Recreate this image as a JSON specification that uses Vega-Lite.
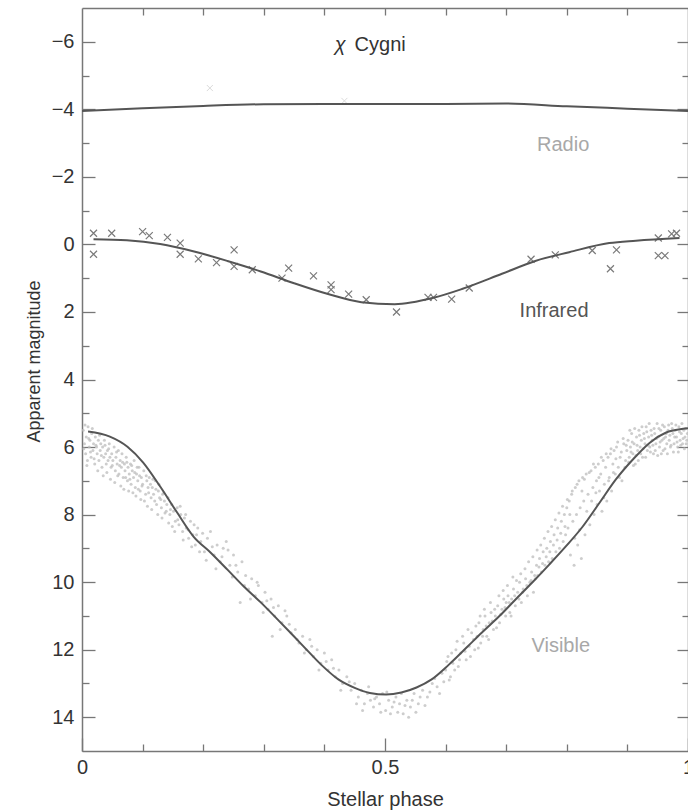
{
  "$schema": "https://vega.github.io/schema/vega-lite/v6.json",
  "width": 606,
  "height": 743,
  "autosize": {"type": "none"},
  "padding": {"left": 82, "top": 8, "right": 0, "bottom": 59},
  "config": {"view": {"stroke": null}, "font": "Liberation Sans"},
  "datasets": {
    "visible_pts": [
      {"x":0.002,"y":5.5},{"x":0.004,"y":5.9},{"x":0.006,"y":6.2},{"x":0.007,"y":5.7},{"x":0.009,"y":6.4},{"x":0.010,"y":5.4},{"x":0.012,"y":6.0},{"x":0.013,"y":5.8},{"x":0.015,"y":6.3},{"x":0.016,"y":5.6},{"x":0.018,"y":6.1},{"x":0.019,"y":5.9},{"x":0.021,"y":6.5},{"x":0.022,"y":5.7},{"x":0.024,"y":6.0},{"x":0.025,"y":6.2},{"x":0.027,"y":5.8},{"x":0.028,"y":6.4},{"x":0.030,"y":6.1},{"x":0.031,"y":5.9},{"x":0.033,"y":6.6},{"x":0.034,"y":6.0},{"x":0.036,"y":6.3},{"x":0.037,"y":5.8},{"x":0.039,"y":6.2},{"x":0.040,"y":6.5},{"x":0.042,"y":6.1},{"x":0.043,"y":6.4},{"x":0.045,"y":5.9},{"x":0.046,"y":6.3},{"x":0.048,"y":6.6},{"x":0.049,"y":6.2},
      {"x":0.051,"y":6.4},{"x":0.053,"y":6.0},{"x":0.055,"y":6.7},{"x":0.056,"y":6.3},{"x":0.058,"y":6.5},{"x":0.060,"y":6.1},{"x":0.061,"y":6.8},{"x":0.063,"y":6.4},{"x":0.065,"y":6.6},{"x":0.066,"y":6.2},{"x":0.068,"y":6.9},{"x":0.070,"y":6.5},{"x":0.071,"y":6.7},{"x":0.073,"y":6.3},{"x":0.075,"y":7.0},{"x":0.076,"y":6.6},{"x":0.078,"y":6.8},{"x":0.080,"y":6.5},{"x":0.081,"y":7.1},{"x":0.083,"y":6.7},{"x":0.085,"y":6.9},{"x":0.086,"y":6.4},{"x":0.088,"y":7.2},{"x":0.090,"y":6.8},{"x":0.092,"y":7.0},{"x":0.094,"y":6.6},{"x":0.096,"y":7.3},{"x":0.098,"y":6.9},
      {"x":0.100,"y":7.1},{"x":0.102,"y":6.7},{"x":0.105,"y":7.4},{"x":0.107,"y":7.0},{"x":0.109,"y":7.2},{"x":0.111,"y":6.9},{"x":0.114,"y":7.5},{"x":0.116,"y":7.2},{"x":0.118,"y":7.4},{"x":0.121,"y":7.0},{"x":0.123,"y":7.7},{"x":0.126,"y":7.3},{"x":0.128,"y":7.5},{"x":0.131,"y":7.8},{"x":0.133,"y":7.4},{"x":0.136,"y":7.6},{"x":0.139,"y":7.9},{"x":0.142,"y":7.5},{"x":0.145,"y":8.0},{"x":0.148,"y":7.7},
      {"x":0.151,"y":7.9},{"x":0.154,"y":8.2},{"x":0.157,"y":7.8},{"x":0.160,"y":8.3},{"x":0.163,"y":8.0},{"x":0.166,"y":8.5},{"x":0.169,"y":8.1},{"x":0.172,"y":8.4},{"x":0.176,"y":8.7},{"x":0.179,"y":8.2},{"x":0.183,"y":8.6},{"x":0.187,"y":8.9},{"x":0.191,"y":8.4},{"x":0.196,"y":8.8},
      {"x":0.202,"y":9.1},{"x":0.207,"y":8.7},{"x":0.212,"y":8.5},{"x":0.218,"y":9.2},{"x":0.223,"y":8.9},{"x":0.228,"y":9.4},{"x":0.233,"y":9.0},{"x":0.238,"y":8.8},{"x":0.244,"y":9.5},{"x":0.250,"y":9.2},{"x":0.257,"y":9.7},{"x":0.264,"y":9.4},{"x":0.261,"y":10.6},
      {"x":0.270,"y":9.8},{"x":0.275,"y":10.2},{"x":0.280,"y":9.9},{"x":0.286,"y":10.4},{"x":0.291,"y":10.1},{"x":0.297,"y":10.6},{"x":0.302,"y":10.3},{"x":0.307,"y":10.8},{"x":0.312,"y":10.5},{"x":0.318,"y":11.0},{"x":0.324,"y":10.7},{"x":0.330,"y":11.2},{"x":0.338,"y":11.0},{"x":0.345,"y":11.5},{"x":0.314,"y":11.6},
      {"x":0.352,"y":11.4},{"x":0.358,"y":11.8},{"x":0.364,"y":11.6},{"x":0.370,"y":12.0},{"x":0.376,"y":11.7},{"x":0.382,"y":12.2},{"x":0.388,"y":12.0},{"x":0.394,"y":12.4},{"x":0.400,"y":12.1},{"x":0.406,"y":12.6},{"x":0.412,"y":12.3},{"x":0.418,"y":12.8},{"x":0.424,"y":12.6},{"x":0.430,"y":13.0},{"x":0.437,"y":12.8},{"x":0.444,"y":13.2},
      {"x":0.450,"y":13.0},{"x":0.456,"y":13.4},{"x":0.461,"y":13.2},{"x":0.466,"y":13.6},{"x":0.471,"y":13.3},{"x":0.476,"y":13.5},{"x":0.481,"y":13.7},{"x":0.486,"y":13.4},{"x":0.491,"y":13.6},{"x":0.496,"y":13.3},{"x":0.501,"y":13.8},{"x":0.506,"y":13.5},{"x":0.512,"y":13.7},{"x":0.518,"y":13.4},{"x":0.524,"y":13.6},{"x":0.530,"y":13.9},{"x":0.536,"y":13.5},{"x":0.542,"y":13.7},{"x":0.548,"y":13.3},{"x":0.555,"y":13.6},{"x":0.562,"y":13.2},{"x":0.570,"y":13.4},{"x":0.578,"y":13.0},{"x":0.586,"y":13.1},{"x":0.594,"y":12.7},
      {"x":0.600,"y":12.6},{"x":0.604,"y":12.2},{"x":0.608,"y":12.8},{"x":0.612,"y":12.4},{"x":0.617,"y":12.0},{"x":0.621,"y":12.5},{"x":0.625,"y":12.1},{"x":0.630,"y":11.8},{"x":0.634,"y":12.3},{"x":0.639,"y":11.9},{"x":0.643,"y":11.5},{"x":0.648,"y":12.0},
      {"x":0.652,"y":11.6},{"x":0.655,"y":11.2},{"x":0.658,"y":11.8},{"x":0.662,"y":11.4},{"x":0.665,"y":11.0},{"x":0.668,"y":11.6},{"x":0.672,"y":11.2},{"x":0.675,"y":10.9},{"x":0.679,"y":11.4},{"x":0.682,"y":11.0},{"x":0.686,"y":10.7},{"x":0.689,"y":11.2},{"x":0.693,"y":10.8},{"x":0.696,"y":10.5},{"x":0.699,"y":11.0},{"x":0.700,"y":10.6},
      {"x":0.703,"y":10.4},{"x":0.706,"y":10.9},{"x":0.709,"y":10.5},{"x":0.712,"y":10.2},{"x":0.715,"y":10.7},{"x":0.719,"y":10.3},{"x":0.722,"y":10.0},{"x":0.725,"y":10.6},{"x":0.728,"y":10.2},{"x":0.732,"y":9.9},{"x":0.735,"y":10.4},{"x":0.739,"y":10.0},{"x":0.742,"y":9.7},{"x":0.745,"y":10.3},{"x":0.748,"y":9.9},{"x":0.750,"y":9.5},
      {"x":0.752,"y":9.8},{"x":0.755,"y":9.3},{"x":0.758,"y":9.7},{"x":0.761,"y":9.1},{"x":0.764,"y":9.5},{"x":0.767,"y":9.0},{"x":0.770,"y":9.4},{"x":0.773,"y":8.8},{"x":0.776,"y":9.3},{"x":0.779,"y":8.6},{"x":0.782,"y":9.1},{"x":0.785,"y":8.4},{"x":0.788,"y":9.0},{"x":0.791,"y":8.2},{"x":0.794,"y":8.8},{"x":0.796,"y":8.0},{"x":0.798,"y":8.6},{"x":0.800,"y":7.8},
      {"x":0.802,"y":8.4},{"x":0.804,"y":7.6},{"x":0.806,"y":9.2},{"x":0.808,"y":7.4},{"x":0.810,"y":8.2},{"x":0.812,"y":9.5},{"x":0.814,"y":7.2},{"x":0.816,"y":8.0},{"x":0.818,"y":8.9},{"x":0.820,"y":7.0},{"x":0.822,"y":7.8},{"x":0.824,"y":9.3},{"x":0.826,"y":6.9},{"x":0.828,"y":7.6},{"x":0.830,"y":8.6},{"x":0.832,"y":6.8},{"x":0.835,"y":7.4},{"x":0.838,"y":8.3},{"x":0.840,"y":6.7},{"x":0.843,"y":7.2},{"x":0.845,"y":8.0},{"x":0.847,"y":6.6},{"x":0.849,"y":7.0},{"x":0.850,"y":7.7},
      {"x":0.852,"y":6.5},{"x":0.854,"y":7.3},{"x":0.856,"y":6.8},{"x":0.858,"y":7.9},{"x":0.860,"y":6.4},{"x":0.862,"y":7.1},{"x":0.864,"y":6.6},{"x":0.866,"y":7.6},{"x":0.868,"y":6.3},{"x":0.870,"y":6.9},{"x":0.872,"y":6.2},{"x":0.874,"y":7.3},{"x":0.876,"y":6.5},{"x":0.878,"y":6.1},{"x":0.880,"y":6.8},{"x":0.882,"y":6.0},{"x":0.885,"y":6.6},{"x":0.888,"y":6.3},{"x":0.891,"y":7.0},{"x":0.894,"y":5.9},{"x":0.897,"y":6.4},{"x":0.899,"y":6.1},
      {"x":0.901,"y":5.8},{"x":0.903,"y":6.3},{"x":0.905,"y":6.0},{"x":0.907,"y":5.6},{"x":0.909,"y":6.2},{"x":0.911,"y":5.9},{"x":0.913,"y":6.5},{"x":0.915,"y":5.7},{"x":0.917,"y":6.1},{"x":0.919,"y":5.5},{"x":0.921,"y":6.0},{"x":0.923,"y":5.8},{"x":0.925,"y":6.3},{"x":0.927,"y":5.6},{"x":0.929,"y":5.9},{"x":0.931,"y":5.4},{"x":0.933,"y":6.1},{"x":0.935,"y":5.7},{"x":0.937,"y":6.0},{"x":0.939,"y":5.5},{"x":0.941,"y":5.8},{"x":0.943,"y":6.2},{"x":0.945,"y":5.6},{"x":0.947,"y":5.9},{"x":0.949,"y":5.3},{"x":0.951,"y":5.7},{"x":0.953,"y":6.0},{"x":0.955,"y":5.5},{"x":0.957,"y":5.8},{"x":0.959,"y":6.1},{"x":0.961,"y":5.4},{"x":0.963,"y":5.7},{"x":0.965,"y":5.9},{"x":0.967,"y":5.5},{"x":0.969,"y":5.8},{"x":0.971,"y":6.0},{"x":0.973,"y":5.3},{"x":0.975,"y":5.6},{"x":0.977,"y":5.9},{"x":0.979,"y":5.5},{"x":0.981,"y":5.7},{"x":0.983,"y":6.0},{"x":0.985,"y":5.4},{"x":0.987,"y":5.8},{"x":0.989,"y":5.6},{"x":0.991,"y":5.9},{"x":0.993,"y":5.5},{"x":0.995,"y":5.7},{"x":0.997,"y":5.9},{"x":0.999,"y":5.6},
      {"x":0.003,"y":6.05},{"x":0.005,"y":5.35},{"x":0.008,"y":6.55},{"x":0.011,"y":5.75},{"x":0.014,"y":6.15},{"x":0.017,"y":5.45},{"x":0.020,"y":6.35},{"x":0.023,"y":5.95},{"x":0.026,"y":6.7},{"x":0.029,"y":5.65},{"x":0.032,"y":6.25},{"x":0.035,"y":6.85},{"x":0.038,"y":5.95},{"x":0.041,"y":6.75},{"x":0.044,"y":6.05},{"x":0.047,"y":6.95},{"x":0.050,"y":6.55},{"x":0.054,"y":7.05},{"x":0.057,"y":6.15},{"x":0.059,"y":6.85},{"x":0.062,"y":6.55},{"x":0.064,"y":7.15},{"x":0.067,"y":6.45},{"x":0.069,"y":7.25},{"x":0.072,"y":6.9},{"x":0.074,"y":6.45},{"x":0.077,"y":7.3},{"x":0.079,"y":6.95},{"x":0.082,"y":6.55},{"x":0.084,"y":7.35},{"x":0.087,"y":6.75},{"x":0.089,"y":7.45},{"x":0.091,"y":6.6},{"x":0.093,"y":7.25},{"x":0.095,"y":6.85},{"x":0.097,"y":7.55},{"x":0.099,"y":7.15},{"x":0.103,"y":7.6},{"x":0.106,"y":6.85},{"x":0.108,"y":7.75},{"x":0.110,"y":7.35},{"x":0.113,"y":7.1},{"x":0.115,"y":7.85},{"x":0.117,"y":6.95},{"x":0.120,"y":7.6},{"x":0.122,"y":7.25},{"x":0.125,"y":8.0},{"x":0.127,"y":7.1},{"x":0.130,"y":7.55},{"x":0.132,"y":8.1},{"x":0.135,"y":7.35},{"x":0.137,"y":7.95},{"x":0.140,"y":7.7},{"x":0.143,"y":8.25},{"x":0.146,"y":7.85},{"x":0.149,"y":8.35},
      {"x":0.153,"y":8.5},{"x":0.158,"y":8.15},{"x":0.162,"y":7.75},{"x":0.167,"y":8.75},{"x":0.171,"y":8.0},{"x":0.175,"y":8.45},{"x":0.181,"y":8.95},{"x":0.185,"y":8.3},{"x":0.189,"y":8.6},{"x":0.194,"y":9.1},{"x":0.199,"y":8.55},{"x":0.205,"y":9.35},{"x":0.215,"y":8.95},{"x":0.221,"y":9.6},{"x":0.231,"y":9.25},{"x":0.241,"y":9.05},{"x":0.248,"y":9.85},{"x":0.254,"y":9.5},{"x":0.268,"y":10.1},{"x":0.278,"y":10.5},{"x":0.289,"y":10.0},{"x":0.299,"y":10.9},{"x":0.305,"y":10.55},{"x":0.316,"y":10.75},{"x":0.327,"y":11.4},{"x":0.335,"y":10.85},{"x":0.342,"y":11.25},{"x":0.355,"y":11.7},{"x":0.367,"y":12.1},{"x":0.379,"y":11.9},{"x":0.391,"y":12.6},{"x":0.403,"y":12.35},{"x":0.415,"y":12.55},{"x":0.427,"y":13.2},{"x":0.441,"y":12.95},
      {"x":0.453,"y":13.6},{"x":0.463,"y":13.8},{"x":0.473,"y":13.1},{"x":0.483,"y":13.45},{"x":0.493,"y":13.85},{"x":0.503,"y":13.25},{"x":0.509,"y":13.9},{"x":0.515,"y":13.55},{"x":0.521,"y":13.85},{"x":0.527,"y":13.3},{"x":0.533,"y":13.65},{"x":0.539,"y":14.0},{"x":0.545,"y":13.5},{"x":0.551,"y":13.85},{"x":0.558,"y":13.4},{"x":0.566,"y":13.65},{"x":0.574,"y":13.25},{"x":0.582,"y":12.85},{"x":0.590,"y":13.3},{"x":0.597,"y":12.95},
      {"x":0.602,"y":12.35},{"x":0.606,"y":12.9},{"x":0.610,"y":12.1},{"x":0.615,"y":12.6},{"x":0.619,"y":11.75},{"x":0.623,"y":12.3},{"x":0.628,"y":11.6},{"x":0.632,"y":12.05},{"x":0.637,"y":11.4},{"x":0.641,"y":12.2},{"x":0.646,"y":11.7},{"x":0.650,"y":11.3},{"x":0.654,"y":11.95},{"x":0.657,"y":11.0},{"x":0.661,"y":11.6},{"x":0.664,"y":10.8},{"x":0.667,"y":11.3},{"x":0.671,"y":11.7},{"x":0.674,"y":10.6},{"x":0.677,"y":11.15},{"x":0.681,"y":10.8},{"x":0.684,"y":11.35},{"x":0.688,"y":10.4},{"x":0.691,"y":10.95},{"x":0.695,"y":10.25},{"x":0.698,"y":10.75},{"x":0.702,"y":10.1},{"x":0.705,"y":10.6},{"x":0.708,"y":11.0},{"x":0.711,"y":9.85},{"x":0.714,"y":10.4},{"x":0.717,"y":9.95},{"x":0.721,"y":10.5},{"x":0.724,"y":9.75},{"x":0.727,"y":10.3},{"x":0.731,"y":9.6},{"x":0.734,"y":10.1},{"x":0.737,"y":9.4},{"x":0.741,"y":9.95},{"x":0.744,"y":9.25},{"x":0.747,"y":9.8},{"x":0.751,"y":9.05},{"x":0.754,"y":9.55},{"x":0.757,"y":8.9},{"x":0.760,"y":9.45},{"x":0.763,"y":8.7},{"x":0.766,"y":9.25},{"x":0.769,"y":8.5},{"x":0.772,"y":9.1},{"x":0.775,"y":8.35},{"x":0.778,"y":8.9},{"x":0.781,"y":8.15},{"x":0.784,"y":8.75},{"x":0.787,"y":7.95},{"x":0.790,"y":8.55},{"x":0.793,"y":7.75},{"x":0.797,"y":8.35},{"x":0.801,"y":7.55},{"x":0.805,"y":8.0},{"x":0.809,"y":7.3},{"x":0.813,"y":8.7},{"x":0.817,"y":7.1},{"x":0.821,"y":8.45},{"x":0.825,"y":7.3},{"x":0.829,"y":6.95},{"x":0.833,"y":7.9},{"x":0.837,"y":6.75},{"x":0.841,"y":7.6},{"x":0.844,"y":6.5},{"x":0.848,"y":7.35},{"x":0.853,"y":6.9},{"x":0.857,"y":6.3},{"x":0.861,"y":7.5},{"x":0.865,"y":6.2},{"x":0.869,"y":7.0},{"x":0.873,"y":6.05},{"x":0.877,"y":6.75},{"x":0.881,"y":6.35},{"x":0.884,"y":5.85},{"x":0.887,"y":6.9},{"x":0.890,"y":6.15},{"x":0.893,"y":5.75},{"x":0.896,"y":6.6},{"x":0.898,"y":5.95},
      {"x":0.902,"y":6.45},{"x":0.904,"y":5.5},{"x":0.906,"y":6.15},{"x":0.908,"y":5.85},{"x":0.910,"y":6.55},{"x":0.912,"y":5.45},{"x":0.914,"y":6.25},{"x":0.916,"y":5.95},{"x":0.918,"y":6.4},{"x":0.920,"y":5.65},{"x":0.922,"y":6.2},{"x":0.924,"y":5.4},{"x":0.926,"y":6.05},{"x":0.928,"y":5.75},{"x":0.930,"y":6.3},{"x":0.932,"y":5.55},{"x":0.934,"y":5.95},{"x":0.936,"y":5.3},{"x":0.938,"y":6.15},{"x":0.940,"y":5.65},{"x":0.942,"y":5.95},{"x":0.944,"y":5.45},{"x":0.946,"y":6.1},{"x":0.948,"y":5.75},{"x":0.950,"y":6.25},{"x":0.952,"y":5.45},{"x":0.954,"y":5.85},{"x":0.956,"y":6.2},{"x":0.958,"y":5.35},{"x":0.960,"y":5.75},{"x":0.962,"y":6.05},{"x":0.964,"y":5.6},{"x":0.966,"y":6.2},{"x":0.968,"y":5.35},{"x":0.970,"y":5.65},{"x":0.972,"y":5.95},{"x":0.974,"y":5.45},{"x":0.976,"y":6.15},{"x":0.978,"y":5.7},{"x":0.980,"y":5.35},{"x":0.982,"y":5.85},{"x":0.984,"y":6.15},{"x":0.986,"y":5.55},{"x":0.988,"y":5.95},{"x":0.990,"y":5.3},{"x":0.992,"y":5.75},{"x":0.994,"y":6.05},{"x":0.996,"y":5.45},{"x":0.998,"y":5.8}
    ],
    "visible_curve": [
      {"x":0.010,"y":5.54},{"x":0.046,"y":5.69},{"x":0.075,"y":5.99},{"x":0.101,"y":6.46},{"x":0.129,"y":7.17},{"x":0.157,"y":7.94},{"x":0.184,"y":8.65},{"x":0.212,"y":9.12},{"x":0.240,"y":9.63},{"x":0.267,"y":10.13},{"x":0.295,"y":10.60},{"x":0.323,"y":11.11},{"x":0.350,"y":11.61},{"x":0.367,"y":11.93},{"x":0.395,"y":12.45},{"x":0.423,"y":12.88},{"x":0.450,"y":13.13},{"x":0.475,"y":13.28},{"x":0.502,"y":13.33},{"x":0.527,"y":13.27},{"x":0.552,"y":13.12},{"x":0.577,"y":12.88},{"x":0.605,"y":12.45},{"x":0.635,"y":11.93},{"x":0.660,"y":11.49},{"x":0.688,"y":11.02},{"x":0.715,"y":10.52},{"x":0.743,"y":10.01},{"x":0.771,"y":9.48},{"x":0.798,"y":8.95},{"x":0.826,"y":8.36},{"x":0.854,"y":7.65},{"x":0.881,"y":6.96},{"x":0.909,"y":6.37},{"x":0.937,"y":5.87},{"x":0.964,"y":5.57},{"x":0.992,"y":5.46},{"x":1.0,"y":5.44}
    ],
    "ir_pts": [
      {"x":0.019,"y":-0.33},{"x":0.019,"y":0.29},{"x":0.049,"y":-0.33},{"x":0.100,"y":-0.38},{"x":0.111,"y":-0.26},{"x":0.141,"y":-0.21},{"x":0.162,"y":-0.04},{"x":0.162,"y":0.29},{"x":0.192,"y":0.43},{"x":0.222,"y":0.54},{"x":0.251,"y":0.16},{"x":0.251,"y":0.65},{"x":0.281,"y":0.75},{"x":0.330,"y":1.0},{"x":0.341,"y":0.70},{"x":0.382,"y":0.93},{"x":0.411,"y":1.20},{"x":0.411,"y":1.34},{"x":0.440,"y":1.47},{"x":0.469,"y":1.64},{"x":0.519,"y":2.0},{"x":0.571,"y":1.57},{"x":0.580,"y":1.57},{"x":0.610,"y":1.62},{"x":0.639,"y":1.29},{"x":0.741,"y":0.44},{"x":0.781,"y":0.31},{"x":0.842,"y":0.18},{"x":0.872,"y":0.72},{"x":0.882,"y":0.16},{"x":0.951,"y":-0.19},{"x":0.951,"y":0.33},{"x":0.962,"y":0.33},{"x":0.973,"y":-0.31},{"x":0.981,"y":-0.33}
    ],
    "ir_curve": [
      {"x":0.019,"y":-0.15},{"x":0.074,"y":-0.12},{"x":0.129,"y":-0.01},{"x":0.185,"y":0.21},{"x":0.240,"y":0.49},{"x":0.295,"y":0.80},{"x":0.350,"y":1.15},{"x":0.406,"y":1.47},{"x":0.461,"y":1.71},{"x":0.516,"y":1.77},{"x":0.580,"y":1.58},{"x":0.627,"y":1.32},{"x":0.693,"y":0.87},{"x":0.748,"y":0.49},{"x":0.804,"y":0.23},{"x":0.870,"y":-0.04},{"x":0.914,"y":-0.11},{"x":0.986,"y":-0.19}
    ],
    "radio_pts": [
      {"x":0.211,"y":-4.63},{"x":0.433,"y":-4.25}
    ],
    "radio_curve": [
      {"x":0.0,"y":-3.95},{"x":0.1,"y":-4.03},{"x":0.2,"y":-4.1},{"x":0.3,"y":-4.15},{"x":0.4,"y":-4.16},{"x":0.5,"y":-4.16},{"x":0.6,"y":-4.16},{"x":0.7,"y":-4.17},{"x":0.8,"y":-4.09},{"x":0.9,"y":-4.02},{"x":1.0,"y":-3.95}
    ],
    "labels": [
      {"x":0.794,"y":-2.95,"t":"Radio"},
      {"x":0.779,"y":1.96,"t":"Infrared"},
      {"x":0.790,"y":11.9,"t":"Visible"},
      {"x":0.492,"y":-5.9,"t":"Cygni"}
    ]
  },
  "layer": [
    {
      "data": {"name": "visible_pts"},
      "mark": {"type": "point", "shape": "circle", "filled": true, "size": 9, "color": "#bcbcbc", "opacity": 0.75, "clip": true},
      "encoding": {
        "x": {"field": "x", "type": "quantitative",
          "scale": {"domain": [0, 1], "nice": false, "zero": false},
          "axis": {"orient": "bottom", "values": [0,0.1,0.2,0.3,0.4,0.5,0.6,0.7,0.8,0.9,1], "format": "~g",
            "labelExpr": "datum.value == 0 || datum.value == 0.5 || datum.value == 1 ? datum.label : ''",
            "tickSize": {"condition": {"test": "datum.value == 0 || datum.value == 0.5 || datum.value == 1", "value": -13}, "value": -7},
            "labelPadding": 19, "labelFlush": false, "labelOverlap": false, "labelFontSize": 20, "labelColor": "#333",
            "domainColor": "#777", "domainWidth": 1.5, "tickColor": "#777", "tickWidth": 1.3, "grid": false,
            "title": "Stellar phase", "titleFontSize": 20, "titleFontWeight": "normal", "titleColor": "#333", "titlePadding": 6}},
        "y": {"field": "y", "type": "quantitative",
          "scale": {"domain": [-7, 15], "reverse": true, "nice": false, "zero": false},
          "axis": {"orient": "left", "values": [-6,-5,-4,-3,-2,-1,0,1,2,3,4,5,6,7,8,9,10,11,12,13,14],
            "labelExpr": "datum.value % 2 === 0 ? datum.label : ''",
            "tickSize": {"condition": {"test": "datum.value % 2 === 0", "value": -13}, "value": -7},
            "labelPadding": 21, "labelOverlap": false, "labelFontSize": 20, "labelColor": "#333",
            "domainColor": "#777", "domainWidth": 1.5, "tickColor": "#777", "tickWidth": 1.3, "grid": false,
            "title": "Apparent magnitude", "titleFontSize": 18, "titleFontWeight": "normal", "titleColor": "#333", "titlePadding": 8, "titleY": 353}}
      }
    },
    {
      "data": {"name": "ir_pts"},
      "mark": {"type": "point", "shape": "M-1,-1L1,1M-1,1L1,-1", "filled": false, "size": 49, "color": "#7a7a7a", "strokeWidth": 1.2, "opacity": 1, "clip": true},
      "encoding": {
        "x": {"field": "x", "type": "quantitative",
          "scale": {"domain": [0, 1], "nice": false, "zero": false},
          "axis": {"orient": "top", "values": [0.1,0.2,0.3,0.4,0.5,0.6,0.7,0.8,0.9], "labels": false, "tickSize": -7,
            "domainColor": "#777", "domainWidth": 1.5, "tickColor": "#777", "tickWidth": 1.3, "grid": false, "title": null}},
        "y": {"field": "y", "type": "quantitative",
          "scale": {"domain": [-7, 15], "reverse": true, "nice": false, "zero": false},
          "axis": {"orient": "right", "values": [-6,-5,-4,-3,-2,-1,0,1,2,3,4,5,6,7,8,9,10,11,12,13,14], "labels": false,
            "tickSize": {"condition": {"test": "datum.value % 2 === 0", "value": -11}, "value": -6},
            "domainColor": "#777", "domainWidth": 1.5, "tickColor": "#777", "tickWidth": 1.3, "grid": false, "title": null}}
      }
    },
    {
      "data": {"name": "radio_pts"},
      "mark": {"type": "point", "shape": "M-1,-1L1,1M-1,1L1,-1", "filled": false, "size": 36, "color": "#cccccc", "strokeWidth": 1, "clip": true},
      "encoding": {
        "x": {"field": "x", "type": "quantitative", "scale": {"domain": [0, 1], "nice": false, "zero": false}, "axis": null},
        "y": {"field": "y", "type": "quantitative", "scale": {"domain": [-7, 15], "reverse": true, "nice": false, "zero": false}, "axis": null}
      }
    },
    {
      "data": {"name": "visible_curve"},
      "mark": {"type": "line", "interpolate": "monotone", "color": "#555555", "strokeWidth": 2, "clip": true},
      "encoding": {
        "x": {"field": "x", "type": "quantitative", "scale": {"domain": [0, 1], "nice": false, "zero": false}, "axis": null},
        "y": {"field": "y", "type": "quantitative", "scale": {"domain": [-7, 15], "reverse": true, "nice": false, "zero": false}, "axis": null}
      }
    },
    {
      "data": {"name": "ir_curve"},
      "mark": {"type": "line", "interpolate": "monotone", "color": "#555555", "strokeWidth": 2, "clip": true},
      "encoding": {
        "x": {"field": "x", "type": "quantitative", "scale": {"domain": [0, 1], "nice": false, "zero": false}, "axis": null},
        "y": {"field": "y", "type": "quantitative", "scale": {"domain": [-7, 15], "reverse": true, "nice": false, "zero": false}, "axis": null}
      }
    },
    {
      "data": {"name": "radio_curve"},
      "mark": {"type": "line", "interpolate": "monotone", "color": "#555555", "strokeWidth": 2, "clip": true},
      "encoding": {
        "x": {"field": "x", "type": "quantitative", "scale": {"domain": [0, 1], "nice": false, "zero": false}, "axis": null},
        "y": {"field": "y", "type": "quantitative", "scale": {"domain": [-7, 15], "reverse": true, "nice": false, "zero": false}, "axis": null}
      }
    },
    {
      "data": {"name": "labels"},
      "mark": {"type": "text", "fontSize": 20, "align": "center", "baseline": "middle"},
      "encoding": {
        "x": {"field": "x", "type": "quantitative", "scale": {"domain": [0, 1], "nice": false, "zero": false}, "axis": null},
        "y": {"field": "y", "type": "quantitative", "scale": {"domain": [-7, 15], "reverse": true, "nice": false, "zero": false}, "axis": null},
        "text": {"field": "t"},
        "color": {"field": "t", "type": "nominal", "scale": {"domain": ["Radio", "Infrared", "Visible", "Cygni"], "range": ["#a8a8a8", "#555555", "#a8a8a8", "#333333"]}, "legend": null}
      }
    },
    {
      "data": {"values": [{"x": 0.426, "y": -5.9, "t": "χ"}]},
      "mark": {"type": "text", "fontSize": 20, "fontStyle": "italic", "align": "center", "baseline": "middle", "color": "#333333"},
      "encoding": {
        "x": {"field": "x", "type": "quantitative", "scale": {"domain": [0, 1], "nice": false, "zero": false}, "axis": null},
        "y": {"field": "y", "type": "quantitative", "scale": {"domain": [-7, 15], "reverse": true, "nice": false, "zero": false}, "axis": null},
        "text": {"field": "t"}
      }
    }
  ],
  "resolve": {"axis": {"x": "independent", "y": "independent"}}
}
